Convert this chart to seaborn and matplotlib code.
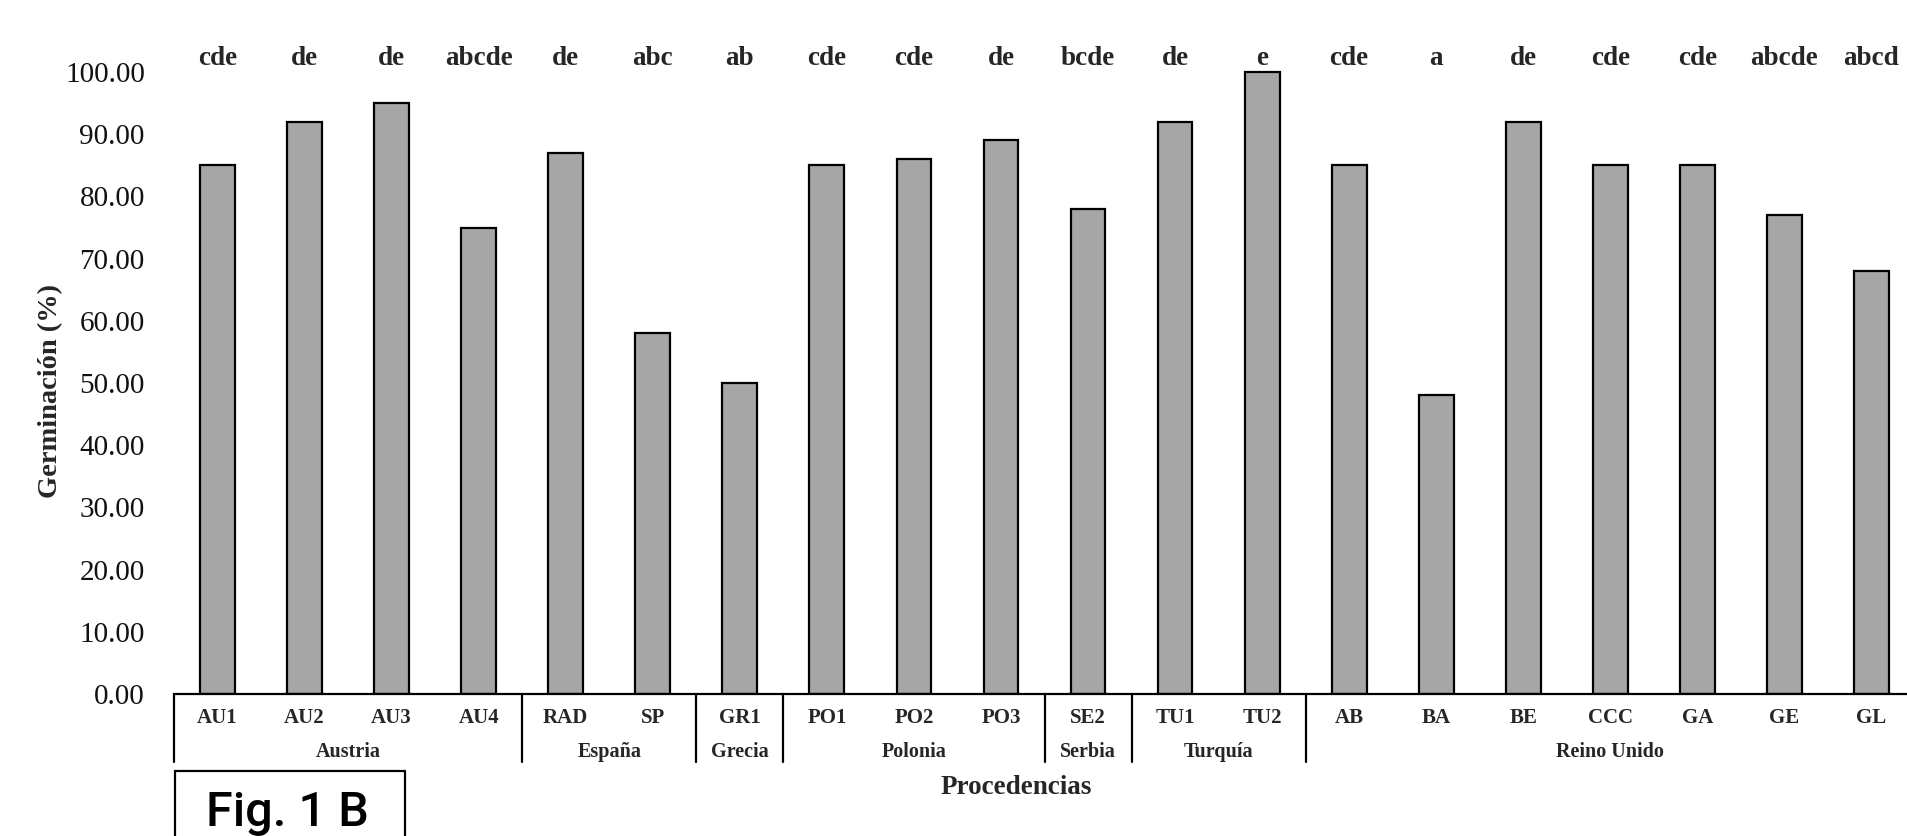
import matplotlib
matplotlib.use("Agg")
import matplotlib.pyplot as plt
import matplotlib.transforms as mtransforms
from matplotlib.patches import Rectangle
import seaborn as sns
import pandas as pd

# Germination per provenance
procedencias = ["AU1", "AU2", "AU3", "AU4", "RAD", "SP", "GR1", "PO1", "PO2", "PO3",
                "SE2", "TU1", "TU2", "AB", "BA", "BE", "CCC", "GA", "GE", "GL"]
germinacion = [85, 92, 95, 75, 87, 58, 50, 85, 86, 89,
               78, 92, 100, 85, 48, 92, 85, 85, 77, 68]
letras = ["cde", "de", "de", "abcde", "de", "abc", "ab", "cde", "cde", "de",
          "bcde", "de", "e", "cde", "a", "de", "cde", "cde", "abcde", "abcd"]

# Country groups (number of provenances in each, in order)
paises = ["Austria", "España", "Grecia", "Polonia", "Serbia", "Turquía", "Reino Unido"]
n_por_pais = [4, 2, 1, 3, 1, 2, 7]

y_ticks = [0, 10, 20, 30, 40, 50, 60, 70, 80, 90, 100]

sns.set_theme(style="white")
plt.rcParams["font.family"] = ["Liberation Serif", "DejaVu Serif"]

W, H = 1908, 836
fig = plt.figure(figsize=(W / 100, H / 100), dpi=100)
ax = fig.add_axes([174 / W, 142 / H, 1741 / W, 634.4 / H])

df = pd.DataFrame({"procedencia": procedencias, "germinacion": germinacion})
sns.barplot(data=df, x="procedencia", y="germinacion", color="#a6a6a6",
            saturation=1, width=0.40, edgecolor="black", linewidth=1.6, ax=ax)

ax.set_xlim(-0.5, len(procedencias) - 0.5)
ax.set_ylim(0, 102)

for side in ("left", "top", "right"):
    ax.spines[side].set_visible(False)
ax.spines["bottom"].set_color("black")
ax.spines["bottom"].set_linewidth(1.6)

ax.set_yticks(y_ticks)
ax.set_yticklabels([f"{v:.2f}" for v in y_ticks], fontsize=21, color="#111111")
ax.tick_params(axis="y", length=0, pad=21)
ax.set_xticks(range(len(procedencias)))
ax.set_xticklabels(procedencias, fontsize=15, fontweight="bold")
ax.tick_params(axis="x", length=0, pad=10)

# significance letters above each bar
for i, letra in enumerate(letras):
    ax.text(i, 102.25, letra, ha="center", va="center", fontsize=19.5,
            fontweight="bold", clip_on=False)

# country group labels and separators
trans = mtransforms.blended_transform_factory(ax.transData, ax.transAxes)
bounds = [-0.5]
for n in n_por_pais:
    bounds.append(bounds[-1] + n)
for b in bounds:
    ax.plot([b, b], [0, -0.107], transform=trans, color="black",
            linewidth=1.6, clip_on=False)
for pais, a, b in zip(paises, bounds[:-1], bounds[1:]):
    ax.text((a + b) / 2, -0.0914, pais, transform=trans, ha="center",
            va="center", fontsize=14.5, fontweight="bold")

ax.set_xlabel("Procedencias", fontsize=19.5, fontweight="bold")
ax.xaxis.label.set_va("center")
ax.xaxis.set_label_coords((1016 - 174) / 1741, (694 - 787) / 634.4)

ax.set_ylabel("Germinación (%)", fontsize=20.5, fontweight="bold")
ax.yaxis.label.set_va("center")
ax.yaxis.set_label_coords((51 - 174) / 1741, 0.478)

# figure tag in a framed box
fig.patches.append(Rectangle((175 / W, -0.02), (405 - 175) / W, 0.02 + 65 / H,
                             transform=fig.transFigure, facecolor="white",
                             edgecolor="black", linewidth=1.6))
fig.text(206 / W, 10 / H, "Fig. 1 B", family=["Roboto", "DejaVu Sans"],
         fontsize=35, fontweight="medium", ha="left", va="baseline",
         color="black")

fig.savefig("out.png", dpi=100)
